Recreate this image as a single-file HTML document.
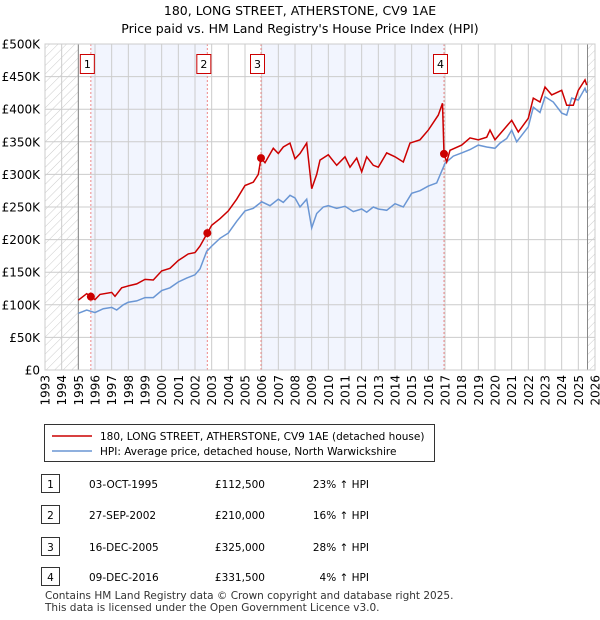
<!DOCTYPE html>
<html><head><meta charset="utf-8"><style>
body{margin:0;background:#fff;font-family:"DejaVu Sans","Liberation Sans",sans-serif;}
#wrap{position:relative;width:600px;height:620px;overflow:hidden;}
svg text{font-family:"DejaVu Sans","Liberation Sans",sans-serif;}
</style></head><body><div id="wrap">
<svg id="chart" width="600" height="620" style="position:absolute;left:0;top:0"></svg>
</div>
<script>
const yearTicks=[1993,1994,1995,1996,1997,1998,1999,2000,2001,2002,2003,2004,2005,2006,2007,2008,2009,2010,2011,2012,2013,2014,2015,2016,2017,2018,2019,2020,2021,2022,2023,2024,2025,2026];
const valueTicks=[0,50000,100000,150000,200000,250000,300000,350000,400000,450000,500000];
const valueTickLabels=["£0","£50K","£100K","£150K","£200K","£250K","£300K","£350K","£400K","£450K","£500K"];
const saleYears=[1995.75,2002.74,2005.96,2016.94];
const salePrices=[112500,210000,325000,331500];
const saleLabels=["1","2","3","4"];
const hpiYears=[1995,1995.5,1996,1996.5,1997,1997.3,1997.7,1998,1998.5,1999,1999.5,2000,2000.5,2001,2001.5,2002,2002.3,2002.7,2003,2003.5,2004,2004.5,2005,2005.5,2006,2006.5,2007,2007.3,2007.7,2008,2008.3,2008.7,2009,2009.3,2009.7,2010,2010.5,2011,2011.5,2012,2012.3,2012.7,2013,2013.5,2014,2014.5,2015,2015.5,2016,2016.5,2017,2017.5,2018,2018.5,2019,2019.5,2020,2020.3,2020.7,2021,2021.3,2022,2022.3,2022.7,2023,2023.5,2024,2024.3,2024.6,2025,2025.4,2025.5];
const hpiValues=[87000,92000,88000,94000,96000,92000,100000,104000,106000,111000,111000,122000,126000,135000,141000,146000,155000,182000,190000,202000,210000,228000,244000,248000,258000,252000,262000,257000,268000,264000,250000,262000,218000,240000,250000,252000,248000,251000,243000,247000,242000,250000,247000,245000,255000,250000,271000,275000,282000,287000,317000,328000,333000,338000,345000,342000,340000,348000,355000,368000,350000,373000,403000,395000,419000,411000,394000,391000,417000,414000,432000,425000];
const priceYears=[1995,1995.5,1995.75,1996,1996.3,1997,1997.2,1997.6,1998,1998.5,1999,1999.5,2000,2000.5,2001,2001.3,2001.6,2002,2002.3,2002.74,2003,2003.5,2004,2004.5,2005,2005.5,2005.8,2005.96,2006.2,2006.7,2007,2007.3,2007.7,2008,2008.3,2008.7,2009,2009.3,2009.5,2010,2010.5,2011,2011.3,2011.7,2012,2012.3,2012.7,2013,2013.5,2014,2014.5,2014.9,2015.5,2016,2016.6,2016.85,2016.94,2017.1,2017.3,2018,2018.5,2019,2019.5,2019.7,2020,2021,2021.4,2022,2022.3,2022.7,2023,2023.4,2024,2024.3,2024.7,2025,2025.4,2025.5];
const priceValues=[107000,117000,112500,108000,116000,119000,113000,126000,129000,132000,139000,138000,152000,156000,168000,173000,178000,180000,190000,210000,222000,232000,244000,262000,283000,288000,300000,325000,318000,340000,332000,342000,348000,324000,332000,348000,278000,300000,322000,330000,314000,327000,311000,325000,304000,327000,314000,311000,333000,327000,319000,348000,353000,368000,391000,409000,331500,319000,337000,345000,356000,353000,357000,368000,353000,383000,365000,386000,417000,411000,434000,422000,429000,406000,406000,429000,445000,437000];

const NS="http://www.w3.org/2000/svg";
const svg=document.getElementById('chart');
const L=45,R=595,T=44,B=370,Y0=1993,Y1=2026,VMAX=500000;
const xs=y=>L+(y-Y0)/(Y1-Y0)*(R-L);
const ys=v=>B-v/VMAX*(B-T);
function mk(tag,attrs,parent){const e=document.createElementNS(NS,tag);for(const k in attrs)e.setAttribute(k,attrs[k]);(parent||svg).appendChild(e);return e;}
const defs=mk('defs',{});
const pat=mk('pattern',{id:'hatch',width:6,height:6,patternUnits:'userSpaceOnUse',patternTransform:'rotate(45)'},defs);
mk('line',{x1:0,y1:0,x2:0,y2:6,stroke:'#ccc','stroke-width':1},pat);
let t=mk('text',{x:300,y:15,'text-anchor':'middle','font-size':12.5});t.textContent="180, LONG STREET, ATHERSTONE, CV9 1AE";

t=mk('text',{x:300,y:33,'text-anchor':'middle','font-size':12.5});t.textContent="Price paid vs. HM Land Registry's House Price Index (HPI)";

let r=mk('rect',{x:L,y:T,width:xs(1995)-L,height:B-T,fill:'url(#hatch)'});

r=mk('rect',{x:xs(2025.55),y:T,width:R-xs(2025.55),height:B-T,fill:'url(#hatch)'});

[[0,1],[2,3]].forEach(p=>{const b=mk('rect',{x:xs(saleYears[p[0]]),y:T,width:xs(saleYears[p[1]])-xs(saleYears[p[0]]),height:B-T,fill:'#f2f5fe'});
});
yearTicks.forEach(y=>{const g=mk('line',{x1:xs(y),x2:xs(y),y1:T,y2:B,stroke:'#ccc','stroke-width':1});

const tx=mk('text',{x:0,y:0,'font-size':12,'text-anchor':'end',transform:`translate(${xs(y)+4.5},${B+5}) rotate(-90)`});tx.textContent=y;
});
valueTicks.forEach((v,i)=>{const g=mk('line',{x1:L,x2:R,y1:ys(v),y2:ys(v),stroke:'#ccc','stroke-width':1});

const tx=mk('text',{x:40,y:ys(v)+4.5,'font-size':12,'text-anchor':'end'});tx.textContent=valueTickLabels[i];
});
let ax=mk('line',{x1:xs(1995),x2:xs(1995),y1:T,y2:B,stroke:'#888'});
ax=mk('line',{x1:xs(2025.55),x2:xs(2025.55),y1:T,y2:B,stroke:'#888'});
saleYears.forEach((y,i)=>{const l=mk('line',{x1:xs(y),x2:xs(y),y1:T,y2:B,stroke:'#e88','stroke-dasharray':'2,2'});

const b=mk('rect',{x:xs(y)-10.5,y:54.5,width:14,height:19,fill:'#fff',stroke:'#c00'});

const tx=mk('text',{x:xs(y)-3.5,y:68,'font-size':11,'text-anchor':'middle'});tx.textContent=saleLabels[i];
});
let d=hpiYears.map((y,i)=>(i?'L':'M')+xs(y).toFixed(1)+','+ys(hpiValues[i]).toFixed(1)).join('');
let p=mk('path',{d:d,fill:'none',stroke:'#6a96d4','stroke-width':1.5});
d=priceYears.map((y,i)=>(i?'L':'M')+xs(y).toFixed(1)+','+ys(priceValues[i]).toFixed(1)).join('');
p=mk('path',{d:d,fill:'none',stroke:'#cc0000','stroke-width':1.5});
saleYears.forEach((y,i)=>{const c=mk('circle',{cx:xs(y),cy:ys(salePrices[i]),r:4,fill:'#cc0000'});
});
let f=mk('rect',{x:L,y:T,width:R-L,height:B-T,fill:'none',stroke:'#ccc'});
let lg=mk('rect',{x:44.5,y:424.5,width:390,height:37,fill:'#fff',stroke:'#333'});
let ll=mk('line',{x1:52,x2:92,y1:436,y2:436,stroke:'#cc0000','stroke-width':1.5});
t=mk('text',{x:100,y:440,'font-size':10.5});t.textContent="180, LONG STREET, ATHERSTONE, CV9 1AE (detached house)";
ll=mk('line',{x1:52,x2:92,y1:451,y2:451,stroke:'#6a96d4','stroke-width':1.5});
t=mk('text',{x:100,y:455,'font-size':10.5});t.textContent="HPI: Average price, detached house, North Warwickshire";
const rows=[["03-OCT-1995","£112,500","23% ↑ HPI"],["27-SEP-2002","£210,000","16% ↑ HPI"],["16-DEC-2005","£325,000","28% ↑ HPI"],["09-DEC-2016","£331,500","  4% ↑ HPI"]];
const rowY=[484,515,547,577];
rows.forEach((rw,i)=>{const y=rowY[i];
const b=mk('rect',{x:41.5,y:y-9.5,width:18,height:18,fill:'#fff',stroke:'#333'});
let tx=mk('text',{x:50.5,y:y+4,'font-size':10.5,'text-anchor':'middle'});tx.textContent=saleLabels[i];
tx=mk('text',{x:89,y:y+4,'font-size':10.5});tx.textContent=rw[0];
tx=mk('text',{x:265,y:y+4,'font-size':10.5,'text-anchor':'end'});tx.textContent=rw[1];
tx=mk('text',{x:369,y:y+4,'font-size':10.5,'text-anchor':'end','xml:space':'preserve'});tx.textContent=rw[2];});
t=mk('text',{x:45,y:599,'font-size':10.5,fill:'#333'});t.textContent="Contains HM Land Registry data © Crown copyright and database right 2025.";
t=mk('text',{x:45,y:611,'font-size':10.5,fill:'#333'});t.textContent="This data is licensed under the Open Government Licence v3.0.";
</script></body></html>
